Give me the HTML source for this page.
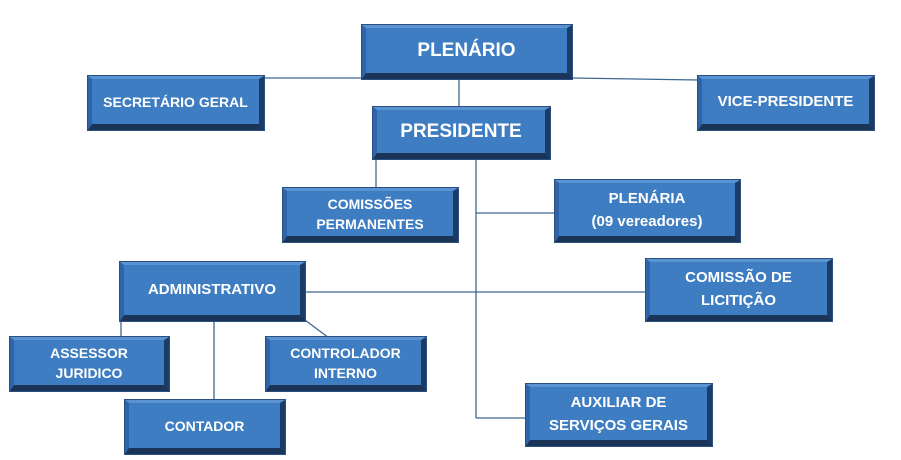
<!DOCTYPE html>
<html><head><meta charset="utf-8"><style>
body{margin:0;width:901px;height:460px;background:#fff;position:relative;overflow:hidden;font-family:"Liberation Sans",sans-serif}
.b{position:absolute;box-sizing:border-box;background:#3f7dc2;border-top:3px solid #5a93d2;border-left:4px solid #2f65a8;border-right:5px solid #1c3c68;border-bottom:6px solid #1a3558;box-shadow:0 0 0 1px #2a4f80;color:#fff;display:flex;align-items:center;justify-content:center;text-align:center;font-size:14px;line-height:20px;font-weight:bold}
svg{position:absolute;left:0;top:0}
</style></head><body>
<svg width="901" height="460"><g stroke="#3d6690" stroke-width="1.3" fill="none">
<line x1="264" y1="78" x2="363" y2="78"/>
<line x1="572" y1="78" x2="698" y2="80"/>
<line x1="459" y1="79" x2="459" y2="107"/>
<line x1="376" y1="158" x2="376" y2="188"/>
<line x1="476" y1="158" x2="476" y2="418"/>
<line x1="476" y1="418" x2="527" y2="418"/>
<line x1="476" y1="213" x2="555" y2="213"/>
<line x1="304" y1="292" x2="646" y2="292"/>
<line x1="121" y1="320" x2="121" y2="338"/>
<line x1="214" y1="320" x2="214" y2="400"/>
<line x1="305" y1="320" x2="329" y2="338"/>
</g></svg>
<div class="b" style="left:362px;top:25px;width:210px;height:54px;font-size:19px">PLENÁRIO</div>
<div class="b" style="left:88px;top:76px;width:176px;height:54px">SECRETÁRIO GERAL</div>
<div class="b" style="left:698px;top:76px;width:176px;height:54px;font-size:15px">VICE-PRESIDENTE</div>
<div class="b" style="left:373px;top:107px;width:177px;height:52px;font-size:19px">PRESIDENTE</div>
<div class="b" style="left:283px;top:188px;width:175px;height:54px">COMISSÕES<br>PERMANENTES</div>
<div class="b" style="left:555px;top:180px;width:185px;height:62px;font-size:15px;line-height:23px">PLENÁRIA<br>(09 vereadores)</div>
<div class="b" style="left:120px;top:262px;width:185px;height:59px;font-size:15px">ADMINISTRATIVO</div>
<div class="b" style="left:646px;top:259px;width:186px;height:62px;font-size:15px;line-height:23px">COMISSÃO DE<br>LICITIÇÃO</div>
<div class="b" style="left:10px;top:337px;width:159px;height:54px">ASSESSOR<br>JURIDICO</div>
<div class="b" style="left:266px;top:337px;width:160px;height:54px">CONTROLADOR<br>INTERNO</div>
<div class="b" style="left:125px;top:400px;width:160px;height:54px">CONTADOR</div>
<div class="b" style="left:526px;top:384px;width:186px;height:62px;font-size:15px;line-height:23px">AUXILIAR DE<br>SERVIÇOS GERAIS</div>
</body></html>
